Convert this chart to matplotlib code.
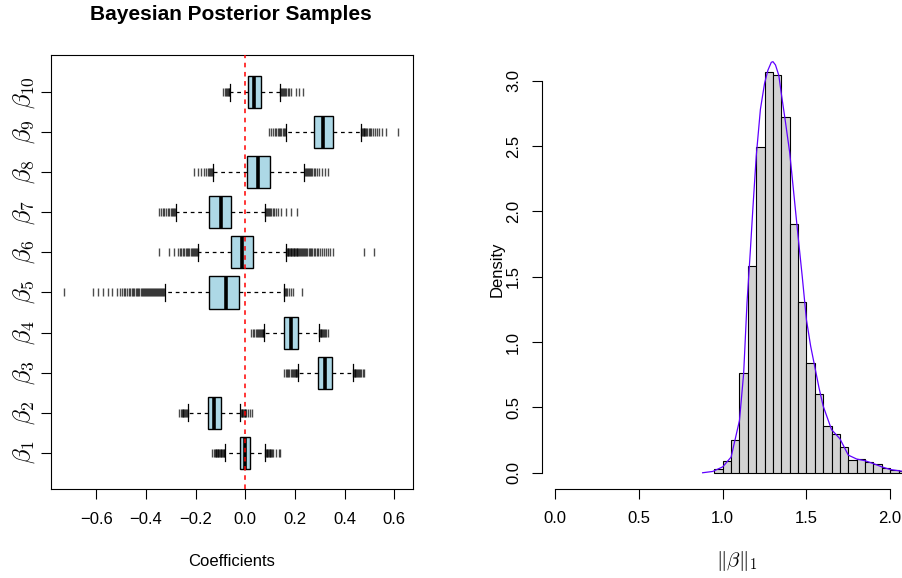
"""
Bayesian posterior summary: coefficient boxplots (left) and
histogram of the L1 norm of beta with its density (right).
"""

import matplotlib
matplotlib.use("Agg")
import matplotlib.pyplot as plt

plt.rcParams["font.family"] = ["Liberation Sans", "DejaVu Sans"]
plt.rcParams["mathtext.fontset"] = "cm"

# ── Boxplot summaries (beta_1 .. beta_10) ────────────────────────────────────
LABELS  = [r"$\beta_{%d}$" % i for i in range(1, 11)]
WHISLO  = [-0.083, -0.230, 0.213, 0.077, -0.325, -0.189, -0.279, -0.129, 0.163, -0.063]
Q1      = [-0.021, -0.150, 0.294, 0.157, -0.146, -0.058, -0.145, 0.008, 0.276, 0.012]
MEDIAN  = [-0.001, -0.125, 0.321, 0.184, -0.079, -0.015, -0.099, 0.051, 0.313, 0.036]
Q3      = [0.020, -0.098, 0.351, 0.214, -0.024, 0.030, -0.056, 0.100, 0.352, 0.062]
WHISHI  = [0.078, -0.020, 0.433, 0.296, 0.155, 0.163, 0.078, 0.238, 0.465, 0.139]

FLIERS = [
    # beta_1
    [-0.134, -0.128, -0.124, -0.120, -0.117, -0.114, -0.111, -0.108, -0.105,
     -0.102, -0.099, -0.096, -0.093, -0.090, -0.087, -0.085,
     0.080, 0.083, 0.086, 0.089, 0.092, 0.095, 0.098, 0.101, 0.104, 0.107,
     0.110, 0.124, 0.134, 0.141],
    # beta_2
    [-0.266, -0.261, -0.257, -0.253, -0.249, -0.245, -0.241, -0.238, -0.235,
     -0.232, -0.018, -0.015, -0.012, -0.009, -0.006, -0.003, 0.000, 0.003,
     0.009, 0.018, 0.028],
    # beta_3
    [0.157, 0.163, 0.168, 0.173, 0.178, 0.183, 0.188, 0.192, 0.196, 0.200,
     0.203, 0.206, 0.209, 0.212, 0.435, 0.438, 0.441, 0.444, 0.447, 0.450,
     0.454, 0.458, 0.463, 0.468, 0.474, 0.480],
    # beta_4
    [0.023, 0.030, 0.036, 0.042, 0.047, 0.052, 0.056, 0.060, 0.064, 0.067,
     0.070, 0.073, 0.075, 0.298, 0.301, 0.304, 0.307, 0.310, 0.313, 0.317,
     0.322, 0.327, 0.332],
    # beta_5
    [-0.730, -0.615, -0.595, -0.575, -0.555, -0.538, -0.515, -0.505, -0.497,
     -0.490, -0.483, -0.476, -0.470, -0.464, -0.458, -0.452, -0.447, -0.442,
     -0.437, -0.432, -0.427, -0.422, -0.417, -0.412, -0.408, -0.404, -0.400,
     -0.396, -0.392, -0.388, -0.384, -0.380, -0.376, -0.372, -0.368, -0.364,
     -0.360, -0.356, -0.352, -0.348, -0.344, -0.340, -0.336, -0.332, -0.328,
     0.158, 0.162, 0.166, 0.170, 0.175, 0.183, 0.194, 0.227],
    # beta_6
    [-0.347, -0.306, -0.286, -0.273, -0.265, -0.258, -0.252, -0.246, -0.240,
     -0.235, -0.230, -0.225, -0.220, -0.215, -0.211, -0.207, -0.203, -0.199,
     -0.195, -0.192,
     0.165, 0.168, 0.171, 0.174, 0.177, 0.180, 0.183, 0.186, 0.189, 0.192,
     0.195, 0.198, 0.201, 0.204, 0.207, 0.210, 0.214, 0.218, 0.222, 0.226,
     0.230, 0.234, 0.238, 0.242, 0.246, 0.250, 0.255, 0.260, 0.265, 0.270,
     0.276, 0.282, 0.288, 0.295, 0.302, 0.310, 0.318, 0.326, 0.334, 0.342,
     0.352, 0.477, 0.520],
    # beta_7
    [-0.347, -0.340, -0.333, -0.326, -0.319, -0.313, -0.307, -0.301, -0.296,
     -0.291, -0.287, -0.283, 0.080, 0.084, 0.088, 0.092, 0.096, 0.100, 0.105,
     0.110, 0.116, 0.122, 0.130, 0.144, 0.164, 0.184, 0.208],
    # beta_8
    [-0.208, -0.192, -0.179, -0.168, -0.158, -0.152, -0.147, -0.142, -0.138,
     -0.134, -0.131, 0.240, 0.244, 0.248, 0.252, 0.256, 0.260, 0.265, 0.270,
     0.276, 0.282, 0.290, 0.298, 0.310, 0.320, 0.332],
    # beta_9
    [0.097, 0.104, 0.111, 0.118, 0.124, 0.130, 0.136, 0.141, 0.146, 0.151,
     0.155, 0.159, 0.468, 0.471, 0.474, 0.477, 0.480, 0.484, 0.488, 0.492,
     0.497, 0.502, 0.508, 0.514, 0.521, 0.530, 0.540, 0.553, 0.568, 0.617],
    # beta_10
    [-0.089, -0.083, -0.078, -0.074, -0.070, -0.067, -0.064, 0.141, 0.145,
     0.149, 0.153, 0.157, 0.161, 0.166, 0.171, 0.178, 0.186, 0.204, 0.218,
     0.231],
]

# ── Histogram of ||beta||_1 (bin width 0.05) ──────────────────────────────────
BIN_LEFT = [0.95, 1.00, 1.05, 1.10, 1.15, 1.20, 1.25, 1.30, 1.35, 1.40, 1.45,
            1.50, 1.55, 1.60, 1.65, 1.70, 1.75, 1.80, 1.85, 1.90, 1.95, 2.00,
            2.05]
BIN_DENSITY = [0.026, 0.092, 0.25, 0.76, 1.584, 2.494, 3.063, 3.04, 2.72,
               1.905, 1.31, 0.84, 0.60, 0.36, 0.30, 0.20, 0.097, 0.105, 0.08,
               0.064, 0.033, 0.02, 0.015]
BIN_WIDTH = 0.05

KDE_X = [0.88, 0.94, 1.00, 1.05, 1.10, 1.125, 1.145, 1.165, 1.18, 1.20, 1.225,
         1.25, 1.27, 1.29, 1.30, 1.315, 1.335, 1.35, 1.375, 1.40, 1.425, 1.45,
         1.475, 1.50, 1.525, 1.55, 1.575, 1.60, 1.65, 1.70, 1.75, 1.80, 1.85,
         1.90, 1.95, 2.00, 2.08]
KDE_Y = [0.0, 0.01, 0.045, 0.12, 0.40, 0.76, 1.30, 1.70, 2.02, 2.42, 2.78,
         2.98, 3.08, 3.14, 3.145, 3.12, 3.04, 2.90, 2.68, 2.45, 2.13, 1.81,
         1.50, 1.17, 0.97, 0.81, 0.65, 0.51, 0.33, 0.26, 0.135, 0.105, 0.092,
         0.07, 0.045, 0.025, 0.01]

XTICKS_L = [-0.6, -0.4, -0.2, 0.0, 0.2, 0.4, 0.6]
XTICKS_R = [0.0, 0.5, 1.0, 1.5, 2.0]
YTICKS_R = [0.0, 0.5, 1.0, 1.5, 2.0, 2.5, 3.0]

W, H = 903, 578


def px_rect(x0, y0, x1, y1):
    return [x0 / W, 1 - y1 / H, (x1 - x0) / W, (y1 - y0) / H]


def main() -> None:
    fig = plt.figure(figsize=(W / 100, H / 100), dpi=100)

    # ── Left: boxplots ───────────────────────────────────────────────────────
    ax = fig.add_axes(px_rect(51, 55, 413, 489))
    stats = []
    for i in range(10):
        stats.append(dict(whislo=WHISLO[i], q1=Q1[i], med=MEDIAN[i],
                          q3=Q3[i], whishi=WHISHI[i], fliers=FLIERS[i]))
    ax.bxp(stats, positions=range(1, 11), orientation="horizontal",
           widths=0.8, capwidths=0.42, patch_artist=True,
           boxprops=dict(facecolor="#ADD8E6", edgecolor="black", linewidth=1.0),
           medianprops=dict(color="black", linewidth=2.6),
           whiskerprops=dict(color="black", linewidth=0.9, linestyle=(0, (3, 3))),
           capprops=dict(color="black", linewidth=0.9),
           flierprops=dict(marker="|", markersize=6, markeredgewidth=1.0,
                           markeredgecolor="black", alpha=0.7, linestyle="none"))
    ax.axvline(0, color="#ff0000", linestyle=(0, (3, 3)), linewidth=1.1, zorder=5)
    ax.set_xlim(-0.783, 0.676)
    ax.set_ylim(0.093, 10.93)
    ax.set_xticks(XTICKS_L)
    ax.set_xticklabels([f"{v:.1f}".replace("-", "\u2212") for v in XTICKS_L])
    ax.set_yticks(range(1, 11))
    ax.set_yticklabels(LABELS, rotation=90, va="center", fontsize=18)
    ax.tick_params(axis="x", direction="out", length=7.2, width=0.8,
                   labelsize=12, pad=9)
    ax.tick_params(axis="y", direction="out", length=7.2, width=0.8, pad=3)
    for s in ax.spines.values():
        s.set_linewidth(0.8)
    ax.set_xlabel("Coefficients", fontsize=12, va="center")
    ax.xaxis.set_label_coords(0.5, -0.1675)
    fig.text(231 / W, 1 - 15 / H, "Bayesian Posterior Samples",
             ha="center", va="center", fontsize=15, fontweight="bold")

    # ── Right: histogram + density ───────────────────────────────────────────
    ax = fig.add_axes(px_rect(542, 55, 931, 488.7))
    ax.bar(BIN_LEFT, BIN_DENSITY, width=BIN_WIDTH, align="edge",
           color="#D3D3D3", edgecolor="black", linewidth=0.8)
    ax.plot(KDE_X, KDE_Y, color="#5f00ff", linewidth=0.9)
    ax.set_xlim(-0.0795, 2.244)
    ax.set_ylim(-0.122, 3.196)
    ax.spines["top"].set_visible(False)
    ax.spines["right"].set_visible(False)
    ax.spines["left"].set_bounds(0, 3)
    ax.spines["bottom"].set_bounds(0, 2)
    for s in ax.spines.values():
        s.set_linewidth(0.8)
    ax.set_xticks(XTICKS_R)
    ax.set_xticklabels([f"{v:.1f}" for v in XTICKS_R])
    ax.set_yticks(YTICKS_R)
    ax.set_yticklabels([f"{v:.1f}" for v in YTICKS_R], rotation=90, va="center")
    ax.tick_params(axis="both", direction="out", length=7.2, width=0.8,
                   labelsize=12)
    ax.tick_params(axis="x", pad=9)
    ax.tick_params(axis="y", pad=8)
    ax.set_ylabel("Density", fontsize=12, va="center")
    ax.yaxis.set_label_coords(-0.1157, 0.505)
    ax.set_xlabel(r"$\Vert\beta\Vert_1$", fontsize=15, va="center")
    ax.xaxis.set_label_coords(0.501, -0.1675)

    fig.savefig("out.png", dpi=100)
    plt.close(fig)


if __name__ == "__main__":
    main()
